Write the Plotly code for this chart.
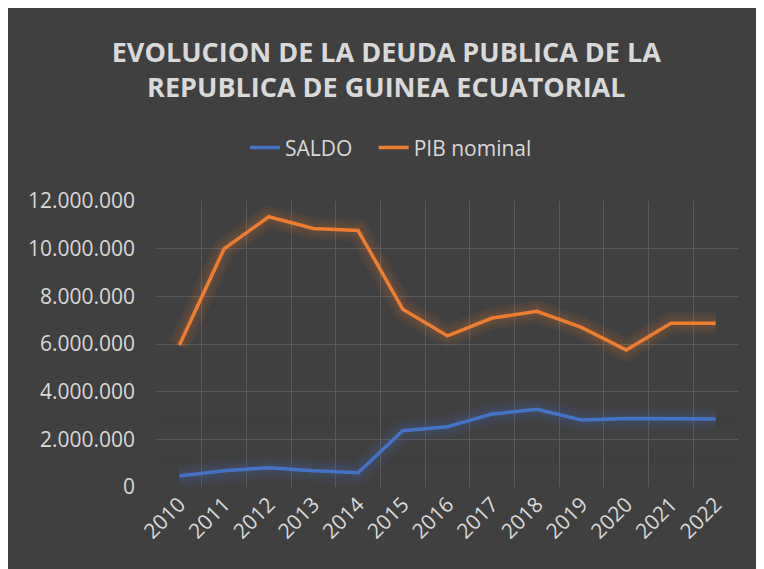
import plotly.graph_objects as go

# Data
years = ['2010', '2011', '2012', '2013', '2014', '2015', '2016',
         '2017', '2018', '2019', '2020', '2021', '2022']
saldo = [460000, 680000, 810000, 680000, 600000, 2360000, 2530000,
         3060000, 3260000, 2810000, 2870000, 2870000, 2850000]
pib_nominal = [5950000, 9990000, 11340000, 10850000, 10760000, 7460000, 6340000,
               7090000, 7370000, 6700000, 5750000, 6870000, 6870000]
y_ticks = [0, 2000000, 4000000, 6000000, 8000000, 10000000, 12000000]
y_labels = ['0', '2.000.000', '4.000.000', '6.000.000', '8.000.000',
            '10.000.000', '12.000.000']

BG = '#404040'
TXT = '#d9d9d9'
BLUE = '#4472c4'
ORANGE = '#ed7d31'

fig = go.Figure()

# soft glow under each line
for vals, col in [(saldo, BLUE), (pib_nominal, ORANGE)]:
    for w in [22, 15, 9]:
        fig.add_trace(go.Scatter(x=years, y=vals, mode='lines', showlegend=False,
                                 hoverinfo='skip', opacity=0.07,
                                 line=dict(color=col, width=w)))

# trailing spaces widen the gap between legend items
fig.add_trace(go.Scatter(x=years, y=saldo, mode='lines', name='SALDO\u00a0\u00a0\u00a0',
                         line=dict(color=BLUE, width=3.5)))
fig.add_trace(go.Scatter(x=years, y=pib_nominal, mode='lines', name='PIB nominal',
                         line=dict(color=ORANGE, width=3.5)))

# gridlines fade out toward the bottom of the plot
shapes = []
steps = 8
for i in range(steps):
    shapes.append(dict(type='rect', xref='paper', yref='y', layer='between',
                       x0=0, x1=0.998, y0=i * 500000, y1=(i + 1) * 500000,
                       fillcolor=BG, opacity=max(0.0, 1.0 - i * 0.13), line_width=0))

fig.update_layout(
    width=780, height=585,
    margin=dict(l=149, r=50, t=193, b=106),
    paper_bgcolor=BG, plot_bgcolor=BG,
    font=dict(family='Open Sans, sans-serif', color=TXT),
    title=dict(text='<b>EVOLUCION DE LA DEUDA PUBLICA DE LA<br>REPUBLICA DE GUINEA ECUATORIAL</b>',
               x=0.485, xref='container', y=0.908, yanchor='middle',
               font=dict(size=27, color=TXT)),
    legend=dict(orientation='h', x=0.491, xref='container', xanchor='center',
                y=0.761, yref='container', yanchor='middle',
                font=dict(size=21, color=TXT), bgcolor='rgba(0,0,0,0)'),
    shapes=shapes,
)

fig.update_xaxes(type='category', range=[-0.5, 12.5], tickson='boundaries',
                 showgrid=True, gridcolor='#5a5a5a', gridwidth=1.3,
                 ticks='', tickangle=-45, tickfont=dict(size=21, color=TXT),
                 showline=False, zeroline=False)
fig.update_yaxes(range=[0, 12000000], tickvals=y_ticks, ticktext=y_labels,
                 showgrid=True, gridcolor='#5a5a5a', gridwidth=1.3,
                 tickfont=dict(size=21, color=TXT), ticklabelstandoff=21,
                 zeroline=False, showline=False)

fig.write_html('out.html')
